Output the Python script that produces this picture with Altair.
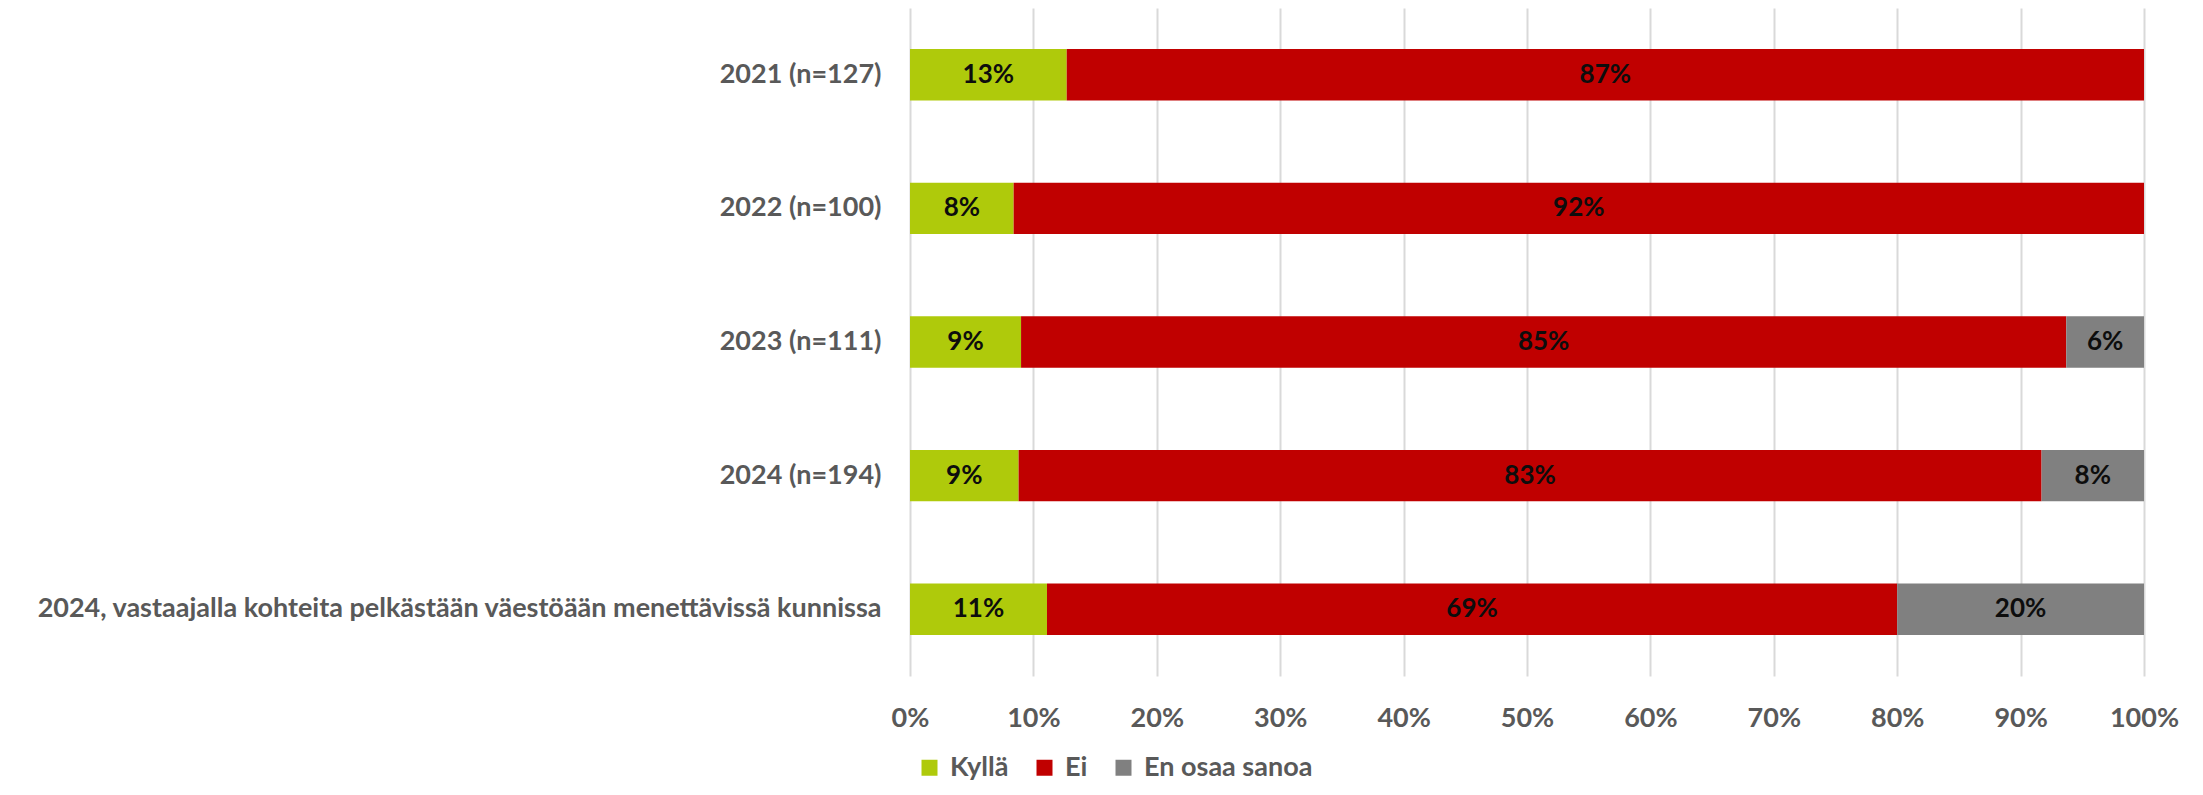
import altair as alt
import pandas as pd

categories = [
    "2021 (n=127)",
    "2022 (n=100)",
    "2023 (n=111)",
    "2024 (n=194)",
    "2024, vastaajalla kohteita pelkästään väestöään menettävissä kunnissa",
]
series = ["Kyllä", "Ei", "En osaa sanoa"]
colors = ["#afca0b", "#c00000", "#808080"]

kylla = [0.127, 0.084, 0.090, 0.088, 0.111]
ei = [0.873, 0.916, 0.847, 0.829, 0.689]
eos = [0.0, 0.0, 0.063, 0.083, 0.200]

rows = []
for i, c in enumerate(categories):
    for j, (s, vals) in enumerate(zip(series, [kylla, ei, eos])):
        rows.append({"category": c, "series": s, "order": j, "value": vals[i]})
df = pd.DataFrame(rows)

FONT = "Lato"
GRAY = "#595959"
FS = 27

base = (
    alt.Chart(df)
    .transform_filter("datum.value > 0")
    .transform_stack(
        stack="value",
        groupby=["category"],
        as_=["x0", "x1"],
        sort=[alt.SortField("order", order="ascending")],
    )
    .transform_calculate(xm="(datum.x0 + datum.x1) / 2")
)

yenc = alt.Y(
    "category:N",
    sort=categories,
    scale=alt.Scale(paddingInner=0.615, paddingOuter=0.3075),
    axis=alt.Axis(
        title=None,
        labelFont=FONT,
        labelFontSize=FS,
        labelFontWeight="bold",
        labelColor=GRAY,
        labelPadding=29,
        labelLimit=2000,
        ticks=False,
        tickSize=0,
        domain=False,
        grid=False,
    ),
)

xscale = alt.Scale(domain=[0, 1], nice=False, clamp=True)

bars = base.mark_bar().encode(
    x=alt.X(
        "x0:Q",
        scale=xscale,
        axis=alt.Axis(
            title=None,
            format=".0%",
            values=[0, 0.1, 0.2, 0.3, 0.4, 0.5, 0.6, 0.7, 0.8, 0.9, 1.0],
            labelFont=FONT,
            labelFontSize=FS,
            labelFontWeight="bold",
            labelColor=GRAY,
            labelPadding=29,
            labelFlush=False,
            ticks=False,
            tickSize=0,
            domain=False,
            grid=True,
            gridColor="#d9d9d9",
            gridWidth=2,
        ),
    ),
    x2="x1:Q",
    y=yenc,
    color=alt.Color(
        "series:N",
        scale=alt.Scale(domain=series, range=colors),
        legend=alt.Legend(
            title=None,
            orient="none",
            legendX=6,
            legendY=746,
            direction="horizontal",
            symbolType="square",
            symbolSize=256,
            symbolStrokeWidth=0,
            labelFont=FONT,
            labelFontSize=FS,
            labelFontWeight="bold",
            labelColor=GRAY,
            labelOffset=7,
            labelLimit=1000,
            columnPadding=22,
            padding=0,
        ),
    ),
)

text = base.mark_text(
    font=FONT, fontSize=26, fontWeight="bold", color="#0d0d0d", baseline="middle", align="center"
).encode(
    x=alt.X("xm:Q", scale=xscale),
    y=alt.Y("category:N", sort=categories),
    text=alt.Text("value:Q", format=".0%"),
)

chart = (
    alt.layer(bars, text)
    .properties(
        width=1234,
        height=668,
        autosize=alt.AutoSizeParams(type="none"),
        padding={"left": 902, "top": 0, "right": 44, "bottom": 107},
    )
    .configure_view(stroke=None)
)

chart.save("out.html", embed_options={"renderer": "svg", "actions": False})
